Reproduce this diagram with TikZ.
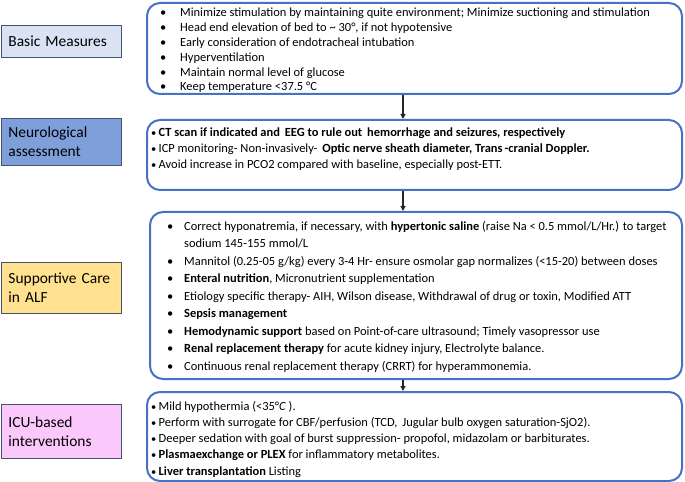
\documentclass[tikz,border=0pt]{standalone}
\usepackage{fontspec}
\setmainfont{Carlito}
\usetikzlibrary{arrows.meta}
\definecolor{boxblue}{HTML}{4472C4}
\definecolor{lblborder}{HTML}{44546A}
\definecolor{fillbasic}{HTML}{DAE3F3}
\definecolor{fillneuro}{HTML}{7F9FDA}
\definecolor{fillsupp}{HTML}{FFE18F}
\definecolor{fillicu}{HTML}{FAC8FA}
\definecolor{arrowgrey}{HTML}{262626}
\newcommand{\bA}{\makebox[20bp][l]{•}}
\newcommand{\bB}{\makebox[7.5bp][l]{\fontsize{10.5}{10.5}\selectfont•}}
\newcommand{\bC}{\makebox[17bp][l]{•}}
\begin{document}
\begin{tikzpicture}[x=1bp,y=-1bp,
  lbl/.style={draw=lblborder, line width=0.9bp, inner xsep=7bp, inner ysep=0pt,
    text width=106bp, align=left, font=\fontsize{15.5}{19}\selectfont,
    anchor=north west, minimum width=120bp},
  bigbox/.style={draw=boxblue, line width=2bp, rounded corners=13bp,
    anchor=north west, inner sep=0pt},
  txt/.style={anchor=base west, inner sep=0pt, align=left},
  arr/.style={draw=arrowgrey, line width=1.4bp, -{Triangle[length=5bp,width=5bp]}}]
\useasboundingbox (0,0) rectangle (685,482);

% label boxes
\node[lbl, fill=fillbasic, minimum height=32bp] (l1) at (1,25) {Basic Measures};
\node[lbl, fill=fillneuro, minimum height=47bp] (l2) at (1,118) {Neurological\\assessment};
\node[lbl, fill=fillsupp, minimum height=51bp] (l3) at (1,262) {Supportive Care\\in ALF};
\node[lbl, fill=fillicu, minimum height=54bp] (l4) at (1,404) {ICU-based\\interventions};

% big boxes
\node[bigbox, minimum width=535bp, minimum height=91bp] (b1) at (146,2) {};
\node[bigbox, minimum width=535bp, minimum height=70bp] (b2) at (146,119) {};
\node[bigbox, minimum width=532bp, minimum height=167bp] (b3) at (149,211) {};
\node[bigbox, minimum width=535bp, minimum height=89bp] (b4) at (146,391) {};

% texts (anchored at the baseline of the last line)
\node[txt, font=\fontsize{12.5}{15}\selectfont] (t1) at (160,91) {%
\bA Minimize stimulation by maintaining quite environment; Minimize suctioning and stimulation\\
\bA Head end elevation of bed to \textasciitilde\ 30°, if not hypotensive\\
\bA Early consideration of endotracheal intubation\\
\bA Hyperventilation\\
\bA Maintain normal level of glucose\\
\bA Keep temperature <37.5 °C};

\node[txt, font=\fontsize{12.5}{16}\selectfont] (t2) at (151,168.5) {%
\bB\textbf{CT scan if indicated and\, EEG to rule out\, hemorrhage and seizures, respectively}\\
\bB ICP monitoring- Non-invasively-\, \textbf{Optic nerve sheath diameter, Trans\,-cranial Doppler.}\\
\bB Avoid increase in PCO2 compared with baseline, especially post-ETT.};

\node[txt, font=\fontsize{12.5}{17.6}\selectfont] (t3) at (167,370.3) {%
\bC Correct hyponatremia, if necessary, with \textbf{hypertonic saline} (raise Na < 0.5 mmol/L/Hr.) to target\\
\hspace*{17bp}sodium 145-155 mmol/L\\
\bC Mannitol (0.25-05 g/kg) every 3-4 Hr- ensure osmolar gap normalizes (<15-20) between doses\\
\bC \textbf{Enteral nutrition}, Micronutrient supplementation\\
\bC Etiology specific therapy- AIH, Wilson disease, Withdrawal of drug or toxin, Modified ATT\\
\bC \textbf{Sepsis management}\\
\bC \textbf{Hemodynamic support} based on Point-of-care ultrasound; Timely vasopressor use\\
\bC \textbf{Renal replacement therapy} for acute kidney injury, Electrolyte balance.\\
\bC Continuous renal replacement therapy (CRRT) for hyperammonemia.};

\node[txt, font=\fontsize{12.5}{16.25}\selectfont] (t4) at (151,475) {%
\bB Mild hypothermia (<35°\textit{C} ).\\
\bB Perform with surrogate for CBF/perfusion (TCD,\, Jugular bulb oxygen saturation-SjO2).\\
\bB Deeper sedation with goal of burst suppression- propofol, midazolam or barbiturates.\\
\bB \textbf{Plasmaexchange or PLEX} for inflammatory metabolites.\\
\bB \textbf{Liver transplantation} Listing};

% arrows
\coordinate (ax) at (403,0);
\draw[arr] (b1.south -| ax) -- (b2.north -| ax);
\draw[arr] (b2.south -| ax) -- (b3.north -| ax);
\draw[arr] (b3.south -| ax) -- (b4.north -| ax);
\end{tikzpicture}
\end{document}
